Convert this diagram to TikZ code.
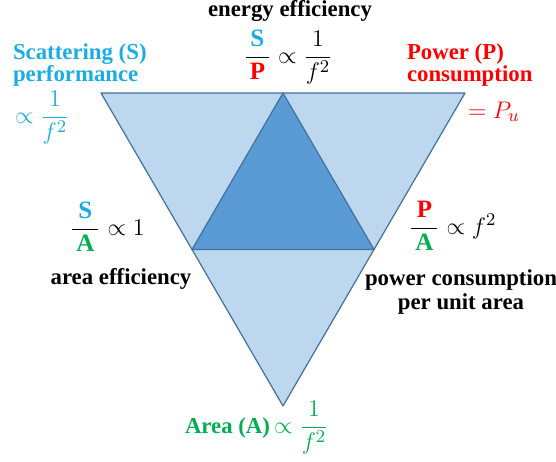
\documentclass[tikz,border=0pt]{standalone}
\usepackage{fontspec}
\setmainfont{Liberation Serif}
\usepackage{amsmath}
\usepackage{xcolor}
\definecolor{scatcol}{HTML}{1AADE5}
\definecolor{powcol}{HTML}{FF0000}
\definecolor{areacol}{HTML}{00B050}
\definecolor{outerfill}{HTML}{BDD7EE}
\definecolor{innerfill}{HTML}{5B9BD5}
\definecolor{edgecol}{HTML}{41719C}
\newcommand{\qS}{\textcolor{scatcol}{\textbf{S}}}
\newcommand{\qP}{\textcolor{powcol}{\textbf{P}}}
\newcommand{\qA}{\textcolor{areacol}{\textbf{A}}}

\begin{document}
\begin{tikzpicture}[x=0.5pt,y=-0.5pt,font=\fontsize{11.4}{10}\selectfont\bfseries,
  lbl/.style={inner sep=0pt,outer sep=0pt},
  eq/.style={lbl,font=\fontsize{12.5}{12}\selectfont\bfseries},
  tri/.style={draw=edgecol,line width=0.6pt,line join=round}]
\useasboundingbox (0,0) rectangle (556,461);
% triangle corners
\coordinate (tl) at (101,93);
\coordinate (tr) at (465,93);
\coordinate (bt) at (283,406);
\coordinate (mt) at (283,93);
\coordinate (ml) at (192,249.5);
\coordinate (mr) at (374,249.5);
\fill[outerfill] (tl) -- (tr) -- (bt) -- cycle;
\draw[tri,fill=innerfill] (mt) -- (ml) -- (mr) -- cycle;
\draw[tri] (tl) -- (tr) -- (bt) -- cycle;
% top
\node[lbl,anchor=base] (energy) at (290,16) {energy efficiency};
\node[eq,anchor=base] (energyeq) at (288,63) {$\dfrac{\,\qS\,}{\,\qP\,}\propto\dfrac{1}{f^2}$};
% scattering
\node[lbl,anchor=base west,text=scatcol] (scat1) at (13,59) {Scattering (S)};
\node[lbl,anchor=base west,text=scatcol] (scat2) at (13,81) {performance};
\node[eq,anchor=base west,text=scatcol] (scateq) at (15,123) {$\propto\dfrac{1}{f^2}$};
% power
\node[lbl,anchor=base west,text=powcol] (pow1) at (407,59) {Power (P)};
\node[lbl,anchor=base west,text=powcol] (pow2) at (407,81) {consumption};
\node[eq,anchor=base west,text=powcol] (poweq) at (468,118) {$=P_u$};
% area efficiency
\node[eq,anchor=base west] (areaeq) at (70,235) {$\dfrac{\,\qS\,}{\,\qA\,}\propto 1$};
\node[lbl,anchor=base] (areaeff) at (121,284) {area efficiency};
% power per area
\node[eq,anchor=base west] (densityeq) at (409,234) {$\dfrac{\,\qP\,}{\,\qA\,}\propto f^2$};
\node[lbl,anchor=base] (density1) at (461,285) {power consumption};
\node[lbl,anchor=base] (density2) at (461,309) {per unit area};
% area
\node[lbl,anchor=base west,text=areacol] (area) at (185,433) {Area (A)};
\node[eq,anchor=base west,text=areacol] (areaprop) at (area.base east) {$\,\propto\dfrac{1}{f^2}$};
\end{tikzpicture}
\end{document}
